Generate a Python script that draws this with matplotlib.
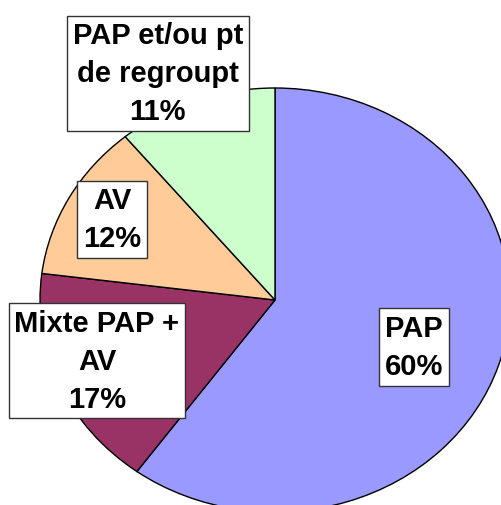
import numpy as np
import matplotlib.pyplot as plt

# données du camembert
categories = ["PAP", "Mixte PAP +\nAV", "AV", "PAP et/ou pt\nde regroupt"]
values = [60, 17, 12, 11]
colors = ["#9999FF", "#993366", "#FFCC99", "#CCFFCC"]
# distance des étiquettes au centre (en rayons)
label_r = [0.63, 0.81, 0.79, 1.18]
label_shift = [-2.6, -2.7, 0.0, 5.2]  # décalage angulaire (degrés)

fig = plt.figure(figsize=(5.01, 5.06), dpi=100)
ax = fig.add_axes([0, 0, 1, 1])

wedges, _ = ax.pie(values, colors=colors, startangle=90, counterclock=False,
                   radius=1.0, center=(0, 0),
                   wedgeprops=dict(edgecolor="black", linewidth=1.0))

# ellipse : rayon 235 px en x, 212 px en y, centre a (275, 301) px
rx, ry = 235.0, 212.0
cx, cy = 275.0, 506.0 - 301.0
ax.set_aspect("auto")
ax.set_xlim(-cx / rx, (501 - cx) / rx)
ax.set_ylim(-cy / ry, (506 - cy) / ry)
ax.axis("off")

total = sum(values)
for w, name, v, r, s in zip(wedges, categories, values, label_r, label_shift):
    mid = np.deg2rad((w.theta1 + w.theta2) / 2 + s)
    x = r * np.cos(mid)
    y = r * np.sin(mid)
    pct = round(100 * v / total)
    ax.text(x, y, f"{name}\n{pct}%", ha="center", va="center",
            multialignment="center", fontsize=21, fontweight="bold",
            family="Liberation Sans", linespacing=1.45,
            bbox=dict(boxstyle="square,pad=0.2", facecolor="white",
                      edgecolor="#333333", linewidth=1.0))

fig.savefig("out.png", dpi=100)
